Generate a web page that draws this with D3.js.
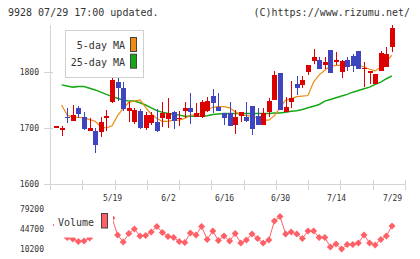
<!DOCTYPE html>
<html>
<head>
<meta charset="utf-8">
<script src="https://cdn.jsdelivr.net/npm/d3@7"></script>
<style>
  body { margin: 0; background: #fff; }
  svg { display: block; }
</style>
</head>
<body>
<svg id="stockChart" width="420" height="259"></svg>
<script>
// trading days 5/1 .. 7/29
const dates = ["5/1","5/2","5/7","5/8","5/9","5/12","5/13","5/14","5/15","5/16",
  "5/19","5/20","5/21","5/22","5/23","5/26","5/27","5/28","5/29","5/30",
  "6/2","6/3","6/4","6/5","6/6","6/9","6/10","6/11","6/12","6/13",
  "6/16","6/17","6/18","6/19","6/20","6/23","6/24","6/25","6/26","6/27","6/30",
  "7/1","7/2","7/3","7/4","7/7","7/8","7/9","7/10","7/11",
  "7/14","7/15","7/16","7/17","7/18","7/22","7/23","7/24","7/25","7/28","7/29"];

const open  = [1703,1700,1720,1713,1736,1720,1695,1695,1693,1718,
  1747,1783,1771,1731,1711,1730,1700,1709,1711,1717,
  1716,1729,1716,1731,1736,1720,1720,1730,1757,1738,
  1727,1727,1705,1722,1719,1739,1721,1705,1729,1750,1799,
  1728,1746,1779,1776,1800,1819,1822,1812,1839,
  1818,1800,1821,1829,1837,1807,1800,1779,1802,1809,1844];
const high  = [1703,1704,1735,1741,1740,1729,1717,1700,1720,1732,
  1793,1790,1783,1746,1735,1734,1728,1728,1734,1747,
  1754,1730,1730,1747,1762,1745,1750,1756,1770,1762,
  1727,1747,1732,1728,1746,1739,1735,1736,1754,1802,1799,
  1756,1784,1792,1792,1812,1841,1826,1827,1839,
  1835,1822,1826,1832,1837,1817,1802,1796,1838,1845,1884];
const low   = [1703,1686,1709,1713,1718,1696,1695,1655,1684,1695,
  1745,1748,1730,1710,1708,1698,1696,1706,1693,1702,
  1700,1699,1704,1717,1708,1720,1718,1728,1727,1731,
  1705,1704,1690,1710,1711,1687,1705,1705,1720,1750,1733,
  1728,1735,1759,1772,1794,1815,1805,1805,1799,
  1812,1790,1802,1800,1805,1774,1778,1779,1802,1809,1836];
const close = [1703,1700,1719,1724,1725,1698,1700,1670,1711,1722,
  1786,1772,1734,1735,1732,1700,1723,1723,1694,1727,
  1727,1712,1718,1736,1729,1727,1747,1748,1745,1731,
  1718,1704,1720,1728,1713,1698,1705,1726,1748,1795,1733,
  1738,1754,1772,1786,1812,1826,1805,1817,1799,
  1821,1820,1809,1811,1805,1808,1801,1796,1834,1832,1878];

const ma5 = [null,1741,1723,1719,1719,1718,1715,1712,1702,1700,
  1704,1722,1735,1746,1748,1750,1737,1725,1717,1712,
  1712,1714,1714,1717,1723,1723,1727,1732,1737,1738,
  1738,1736,1729,1723,1722,1721,1718,1714,1714,1722,1736,
  1750,1752,1756,1757,1758,1782,1795,1803,1811,
  1812,1812,1812,1812,1812,1809,1805,1802,1809,1819,1830];
const ma25 = [null,1777,1775,1773,1774,1774,1771,1768,1764,1760,
  1756,1753,1750,1748,1748,1745,1741,1736,1731,1728,
  1726,1725,1723,1721,1721,1721,1721,1722,1724,1725,
  1726,1726,1726,1726,1726,1726,1726,1726,1726,1727,1727,
  1728,1730,1731,1733,1736,1739,1742,1748,1751,
  1754,1757,1760,1764,1767,1770,1773,1778,1782,1788,1793];

const volume = [51600,43000,30000,27500,23100,24000,29200,39500,43000,46400,
  63700,34400,22300,36900,44700,32600,33500,39500,49000,38700,
  31800,30000,23100,21400,37800,34400,49000,26600,41300,24900,
  32600,24000,36900,20600,25700,36100,28300,20600,25700,58500,66300,
  36100,39500,36100,28300,41300,41300,30000,30000,13700,
  18800,10200,18000,18000,20600,34400,20600,17100,26600,32600,49900];

const priceTicks = [1600, 1700, 1800];
const volumeTicks = [10200, 44700, 79200];
const dateLabels = ["5/19", "6/2", "6/16", "6/30", "7/14", "7/29"];

const upColor = "#dd0000", downColor = "#3f44bf";
const ma5Color = "#f08a10", ma25Color = "#14a814", volColor = "#ff5f66";
const axisColor = "#d4d4d4", textColor = "#333";
const mono = "'DejaVu Sans Mono', monospace";

let svg = d3.select("#stockChart");
let plotLeft = 50, plotRight = 405, plotTop = 25, plotBottom = 184;

let x = d3.scalePoint().domain(dates).range([56, 392]);
let y = d3.scaleLinear().domain([1600, 1800]).range([plotBottom, 72]);
let yv = d3.scaleLinear().domain([10200, 79200]).range([249, 209]);

// header
svg.append("text").attr("x", 8).attr("y", 16)
  .style("font-family", mono).style("font-size", "10px").attr("fill", textColor)
  .text("9928 07/29 17:00 updated.");
svg.append("text").attr("x", 410).attr("y", 16).attr("text-anchor", "end")
  .style("font-family", mono).style("font-size", "10px").attr("fill", textColor)
  .text("(C)https://www.rizumu.net/");

// axes
let yAxis = svg.append("g")
  .attr("transform", "translate(" + plotLeft + ",0)")
  .call(d3.axisLeft(y).tickValues(priceTicks).tickFormat(d3.format("d")).tickSize(6).tickPadding(5));
yAxis.select(".domain").remove();
yAxis.selectAll(".tick line").attr("x1", 3).attr("stroke", axisColor)
  .attr("shape-rendering", "crispEdges");
yAxis.selectAll(".tick text").style("font-family", mono).style("font-size", "8px")
  .attr("fill", textColor);

svg.append("line").attr("x1", plotLeft + 0.5).attr("x2", plotLeft + 0.5)
  .attr("y1", plotTop).attr("y2", 190).attr("stroke", axisColor);
svg.append("line").attr("x1", 45).attr("x2", plotRight)
  .attr("y1", plotBottom + 0.5).attr("y2", plotBottom + 0.5).attr("stroke", axisColor);

// evenly spaced grid ticks under the price panel
svg.append("g").selectAll("line")
  .data(d3.range(12))
  .enter().append("line")
  .attr("x1", function (k) { return Math.round(plotLeft + k * (plotRight - plotLeft) / 11) + 0.5; })
  .attr("x2", function (k) { return Math.round(plotLeft + k * (plotRight - plotLeft) / 11) + 0.5; })
  .attr("y1", 180).attr("y2", 190)
  .attr("stroke", axisColor);

let xAxis = svg.append("g")
  .attr("transform", "translate(0," + plotBottom + ")")
  .call(d3.axisBottom(x).tickValues(dateLabels).tickSize(0).tickPadding(11));
xAxis.select(".domain").remove();
xAxis.selectAll(".tick text").style("font-family", mono).style("font-size", "8px")
  .attr("fill", textColor);

// moving averages
let idx = d3.range(dates.length);
let maLine = function (arr) {
  return d3.line()
    .defined(function (i) { return arr[i] != null; })
    .x(function (i) { return x(dates[i]); })
    .y(function (i) { return y(arr[i]); });
};
svg.append("path").datum(idx).attr("d", maLine(ma25))
  .attr("fill", "none").attr("stroke", ma25Color).attr("stroke-width", 1.5);
svg.append("path").datum(idx).attr("d", maLine(ma5))
  .attr("fill", "none").attr("stroke", ma5Color).attr("stroke-width", 1.2);

// candles
let candle = svg.append("g").attr("shape-rendering", "crispEdges")
  .selectAll("g")
  .data(idx)
  .enter().append("g");

candle.append("line")
  .attr("x1", function (i) { return Math.round(x(dates[i])) + 0.5; })
  .attr("x2", function (i) { return Math.round(x(dates[i])) + 0.5; })
  .attr("y1", function (i) { return y(high[i]); })
  .attr("y2", function (i) { return y(low[i]); })
  .attr("stroke", function (i) { return close[i] >= open[i] ? upColor : downColor; });

candle.append("rect")
  .attr("x", function (i) { return Math.round(x(dates[i])) - 2; })
  .attr("width", 5)
  .attr("y", function (i) { return y(Math.max(open[i], close[i])); })
  .attr("height", function (i) { return Math.max(1.5, Math.abs(y(open[i]) - y(close[i]))); })
  .attr("fill", function (i) { return close[i] >= open[i] ? upColor : downColor; });

// price legend
let legend = svg.append("g");
legend.append("rect").attr("x", 65.5).attr("y", 30.5).attr("width", 78).attr("height", 47)
  .attr("fill", "#fff").attr("stroke", "#cfcfcf");
let legendItems = [["5-day MA", ma5Color], ["25-day MA", ma25Color]];
let li = legend.selectAll("g.item")
  .data(legendItems)
  .enter().append("g")
  .attr("transform", function (d, i) { return "translate(0," + i * 16.7 + ")"; });
li.append("text").attr("x", 125).attr("y", 49).attr("text-anchor", "end")
  .style("font-family", mono).style("font-size", "10px").attr("fill", textColor)
  .text(function (d) { return d[0]; });
li.append("rect").attr("x", 130.5).attr("y", 37.5).attr("width", 6).attr("height", 14)
  .attr("fill", function (d) { return d[1]; }).attr("stroke", "#444");

// volume panel
let vAxis = svg.append("g")
  .attr("transform", "translate(" + plotLeft + ",0)")
  .call(d3.axisLeft(yv).tickValues(volumeTicks).tickFormat(d3.format("d")).tickSize(0).tickPadding(6));
vAxis.select(".domain").remove();
vAxis.selectAll(".tick text").style("font-family", mono).style("font-size", "8px")
  .attr("fill", textColor);

svg.append("path").datum(idx)
  .attr("d", d3.line()
    .x(function (i) { return x(dates[i]); })
    .y(function (i) { return yv(volume[i]); }))
  .attr("fill", "none").attr("stroke", volColor).attr("stroke-width", 1);

svg.append("g").selectAll("path")
  .data(idx)
  .enter().append("path")
  .attr("d", "M0,-3.5L3.5,0L0,3.5L-3.5,0Z")
  .attr("transform", function (i) { return "translate(" + x(dates[i]) + "," + yv(volume[i]) + ")"; })
  .attr("fill", volColor);

// volume legend (white background hides the line beneath)
svg.append("rect").attr("x", 54).attr("y", 205).attr("width", 59).attr("height", 32.5)
  .attr("fill", "#fff");
svg.append("text").attr("x", 58).attr("y", 225.5)
  .style("font-family", mono).style("font-size", "10px").attr("fill", textColor)
  .text("Volume");
svg.append("rect").attr("x", 101.5).attr("y", 213.5).attr("width", 6).attr("height", 14.5)
  .attr("fill", volColor).attr("stroke", "#444");
</script>
</body>
</html>
